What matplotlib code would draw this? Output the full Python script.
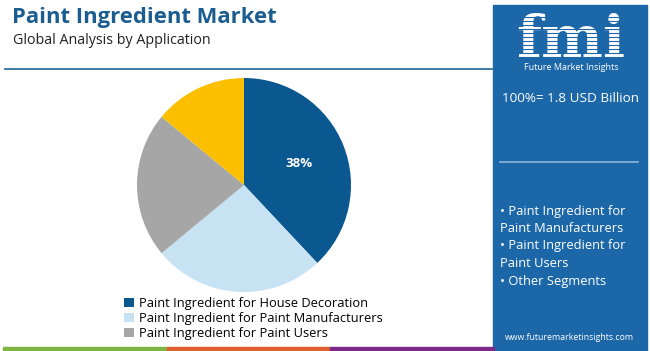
import matplotlib
matplotlib.use("Agg")
import matplotlib.pyplot as plt
import numpy as np
from matplotlib.patches import Rectangle

# data
segments = ["Paint Ingredient for House Decoration",
            "Paint Ingredient for Paint Manufacturers",
            "Paint Ingredient for Paint Users",
            "Other Segments"]
shares = [38, 26, 22, 14]
colors = ["#0b578f", "#c6e2f3", "#a6a6a6", "#fbbf00"]
legend_count = 3

title = "Paint Ingredient Market"
subtitle = "Global Analysis by Application"
total_text = "100%= 1.8 USD Billion"
side_lines = ["• Paint Ingredient for", "Paint Manufacturers",
              "• Paint Ingredient for", "Paint Users", "• Other Segments"]

W, H = 650, 351
fig = plt.figure(figsize=(W / 100, H / 100), dpi=100)
fig.patch.set_facecolor("white")
font = "Open Sans"


def fx(px):
    return px / W


def fy(py):
    return 1 - py / H


# title block
fig.text(fx(12), fy(17), title, fontsize=15.8, fontweight="bold", color="#1b5d8f",
         family=font, va="center", ha="left")
fig.text(fx(13), fy(40), subtitle, fontsize=10.3, color="#222222",
         family=font, va="center", ha="left")
fig.add_artist(plt.Line2D([fx(5), fx(492)], [fy(69), fy(69)], color="#2f6f9f", lw=1.3))

# right panel
panel = "#1c67a7"
fig.add_artist(Rectangle((fx(493), 0), fx(647) - fx(493), fy(5), color=panel, zorder=0))
fig.text(fx(571), fy(57), "fmi", fontsize=42, fontweight="bold", color="white",
         family="DejaVu Serif", ha="center", va="baseline")
for py in range(17, 58, 4):
    fig.add_artist(plt.Line2D([fx(510), fx(634)], [fy(py), fy(py)], color=panel,
                              lw=0.8, zorder=5))
fig.text(fx(571), fy(68), "Future Market Insights", fontsize=6.5, color="white",
         family=font, ha="center", va="center")
fig.text(fx(570), fy(98), total_text, fontsize=9.7, color="white",
         family=font, ha="center", va="center")
fig.add_artist(plt.Line2D([fx(500), fx(638)], [fy(162), fy(162)], color="#8fb6d9", lw=1.2))
for i, line in enumerate(side_lines):
    fig.text(fx(500), fy(211 + i * 17.5), line, fontsize=9.3, color="white",
             family=font, ha="left", va="center")
fig.text(fx(569), fy(337), "www.futuremarketinsights.com", fontsize=6.3, color="white",
         family=font, ha="center", va="center")

# bottom strip
for x0, x1, c in [(3, 167, "#7cb342"), (167, 330, "#e06030"), (330, 494, "#7b2a8a")]:
    fig.add_artist(Rectangle((fx(x0), 0), fx(x1) - fx(x0), fy(347), color=c))

# pie
cx, cy, r = 244, 185, 107
ax = fig.add_axes([fx(cx - r), fy(cy + r), fx(2 * r), (2 * r) / H])
wedges, _ = ax.pie(shares, colors=colors, startangle=90, counterclock=False,
                   radius=1, wedgeprops=dict(linewidth=0))
ax.set_xlim(-1, 1)
ax.set_ylim(-1, 1)
ax.set_aspect("equal")
ax.axis("off")
mid = np.deg2rad(90 - shares[0] / 100 * 360 / 2)
ax.text(0.55 * np.cos(mid), 0.55 * np.sin(mid), f"{shares[0]}%", color="white",
        fontsize=9.5, fontweight="bold", family=font, ha="center", va="center")

fig.legend(wedges[:legend_count], segments[:legend_count], loc="upper left",
           bbox_to_anchor=(fx(118), fy(291)), frameon=False,
           handlelength=0.7, handleheight=0.7, handletextpad=0.4, labelspacing=0.12,
           borderpad=0, prop={"family": font, "size": 9.3})

fig.savefig("out.png", dpi=100)
